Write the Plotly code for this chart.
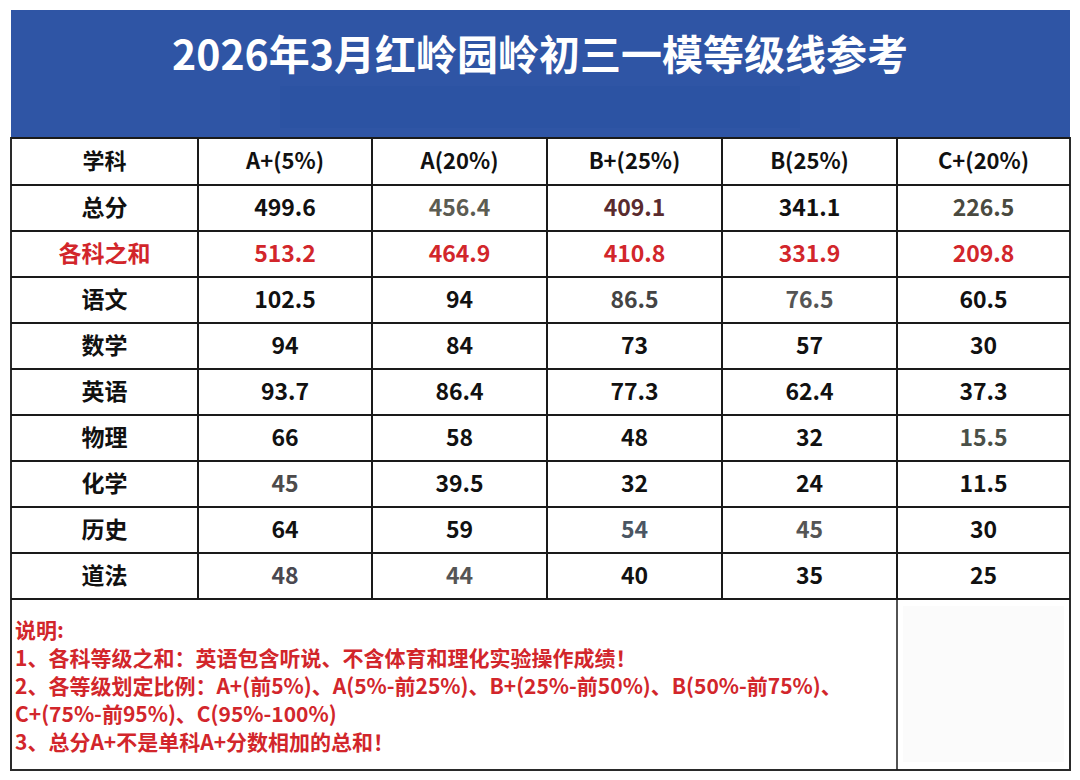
import plotly.graph_objects as go

# table data
subjects = ["总分", "各科之和", "语文", "数学", "英语", "物理", "化学", "历史", "道法"]
grades = ["A+(5%)", "A(20%)", "B+(25%)", "B(25%)", "C+(20%)"]
a_plus = ["499.6", "513.2", "102.5", "94", "93.7", "66", "45", "64", "48"]
a_grade = ["456.4", "464.9", "94", "84", "86.4", "58", "39.5", "59", "44"]
b_plus = ["409.1", "410.8", "86.5", "73", "77.3", "48", "32", "54", "40"]
b_grade = ["341.1", "331.9", "76.5", "57", "62.4", "32", "24", "45", "35"]
c_plus = ["226.5", "209.8", "60.5", "30", "37.3", "15.5", "11.5", "30", "25"]

title = "2026年3月红岭园岭初三一模等级线参考"
notes = [
    "说明:",
    "1、各科等级之和：英语包含听说、不含体育和理化实验操作成绩！",
    "2、各等级划定比例：A+(前5%)、A(5%-前25%)、B+(25%-前50%)、B(50%-前75%)、",
    "C+(75%-前95%)、C(95%-100%)",
    "3、总分A+不是单科A+分数相加的总和！",
]

# the page puts the figure 8px in from the corner, so work in page pixels
OFF = 8
W, H = 1080 - OFF, 780 - OFF
RED = "#d2262b"
BLK = "#111111"
LINE = "#1a1a1a"

# text colours per column (some cells are greyish in the picture)
col_colors = [
    [BLK, RED] + [BLK] * 7,
    [BLK, RED, BLK, BLK, BLK, BLK, "#4d4b4b", BLK, "#4a4850"],
    ["#5c5c52", RED, BLK, BLK, BLK, BLK, BLK, BLK, "#555555"],
    ["#5a2b2e", RED, "#444444", BLK, BLK, BLK, BLK, "#4a5663", BLK],
    [BLK, RED, "#555555", BLK, BLK, BLK, BLK, "#555555", BLK],
    ["#4a4a40", RED, BLK, BLK, BLK, "#4a5048", BLK, BLK, BLK],
]
col_w = [187, 174, 175, 175, 175, 173]

FONT = "Noto Sans CJK SC, sans-serif"


def py(v):
    return 1 - (v - OFF) / H


def px(v):
    return (v - OFF) / W


left, top, head_h, row_h = 11, 138, 47, 46
bottom = top + head_h + row_h * len(subjects)
right = left + sum(col_w)
shift = 6  # plotly puts cell text high, so the table sits a bit lower and the grid is drawn on top

fig = go.Figure(go.Table(
    domain=dict(x=[px(left), px(right)], y=[py(bottom + shift), py(top + shift)]),
    columnwidth=col_w,
    header=dict(
        values=["学科"] + grades,
        height=head_h,
        align="center",
        fill_color="white",
        line=dict(color="white", width=0),
        font=dict(family=FONT, size=22, color=BLK, weight="bold"),
    ),
    cells=dict(
        values=[subjects, a_plus, a_grade, b_plus, b_grade, c_plus],
        height=row_h,
        align="center",
        fill_color="white",
        line=dict(color="white", width=0),
        font=dict(family=FONT, size=23, color=col_colors, weight="bold"),
    ),
))

shapes = [
    # blue title band
    dict(type="rect", xref="paper", yref="paper", x0=px(left), x1=px(right), y0=py(top), y1=py(10),
         fillcolor="#2f55a5", line=dict(width=0), layer="below"),
    # blurred patch under the title
    dict(type="rect", xref="paper", yref="paper", x0=px(280), x1=px(800), y0=py(128), y1=py(86),
         fillcolor="#2c53a3", line=dict(width=0), layer="below"),
    # notes box
    dict(type="rect", xref="paper", yref="paper", x0=px(left), x1=px(right), y0=py(770), y1=py(bottom),
         fillcolor="white", line=dict(width=0), layer="below"),
    dict(type="rect", xref="paper", yref="paper", x0=px(903), x1=px(1064), y0=py(762), y1=py(606),
         fillcolor="#fbfbfb", line=dict(width=0), layer="below"),
    dict(type="rect", xref="paper", yref="paper", x0=px(left), x1=px(right), y0=py(770), y1=py(top),
         line=dict(color="#2a2a2a", width=2)),
    dict(type="line", xref="paper", yref="paper", x0=px(897), x1=px(897), y0=py(770), y1=py(bottom),
         line=dict(color=LINE, width=1.5)),
]

# grid lines of the table
row_edges = [top, top + head_h] + [top + head_h + row_h * (i + 1) for i in range(len(subjects))]
for ry in row_edges:
    shapes.append(dict(type="line", xref="paper", yref="paper", x0=px(left), x1=px(right),
                       y0=py(ry), y1=py(ry), line=dict(color=LINE, width=2)))
xx = left
for w in col_w[:-1]:
    xx += w
    shapes.append(dict(type="line", xref="paper", yref="paper", x0=px(xx), x1=px(xx),
                       y0=py(bottom), y1=py(top), line=dict(color=LINE, width=2)))

annotations = [
    dict(text=title, x=px(540), y=py(52), xref="paper", yref="paper", showarrow=False,
         xanchor="center", yanchor="middle",
         font=dict(family=FONT, size=41, color="white", weight="bold")),
]
note_y = [629, 657, 685, 713, 741]
for txt, yy in zip(notes, note_y):
    annotations.append(dict(text=txt, x=px(13), y=py(yy), xref="paper", yref="paper",
                            showarrow=False, xanchor="left", yanchor="middle",
                            font=dict(family=FONT, size=21, color=RED, weight="bold")))

fig.update_layout(
    width=W, height=H,
    margin=dict(l=0, r=0, t=0, b=0),
    paper_bgcolor="white",
    plot_bgcolor="white",
    shapes=shapes,
    annotations=annotations,
)

fig.write_html("out.html")
